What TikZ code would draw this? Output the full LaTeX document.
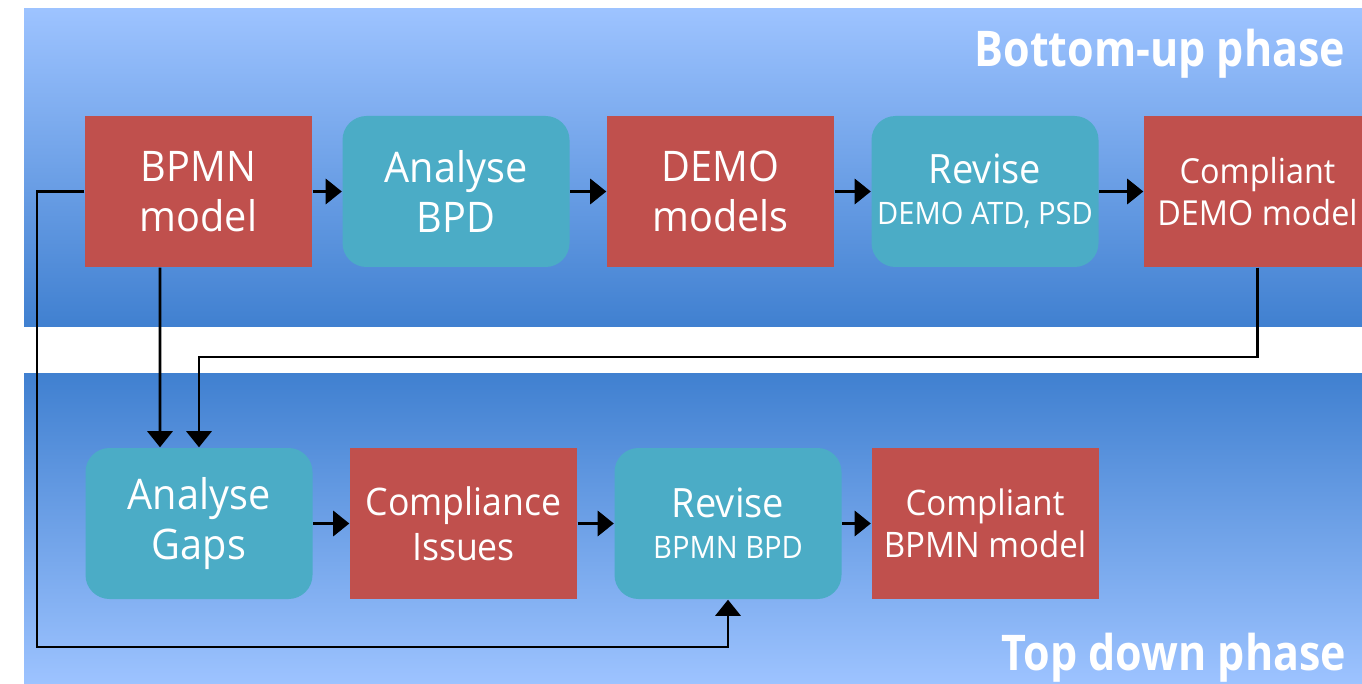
\documentclass[tikz,border=0pt]{standalone}
\usepackage{fontspec}
\setmainfont{Open Sans}[FakeStretch=0.94]
\usepackage{graphicx}
\usepackage{tikz}
\usetikzlibrary{arrows.meta}

\definecolor{modelred}{RGB}{192,80,77}
\definecolor{taskteal}{RGB}{75,172,198}
\definecolor{bandlight}{RGB}{157,195,255}
\definecolor{banddark}{RGB}{64,128,208}

\begin{document}
\begin{tikzpicture}[x=0.1mm, y=-0.1mm,
		model/.style={rectangle, fill=modelred, text=white, align=center, inner sep=0pt,
			minimum width=22.7mm, minimum height=15.1mm},
		task/.style={model, fill=taskteal, rounded corners=2.4mm},
		flow/.style={draw, line width=0.75pt, -{Triangle[length=4.6pt,width=7.2pt]}},
		phase/.style={text=white, inner sep=0pt, font=\bfseries\fontsize{14}{16}\selectfont, anchor=base west}]
	\useasboundingbox (0,0) rectangle (1362,684);
	\clip (0,0) rectangle (1362,684);
	% the two phase bands
	\shade[top color=bandlight, bottom color=banddark] (24,9) rectangle (1362,327);
	\shade[top color=banddark, bottom color=bandlight] (24,373) rectangle (1362,684);
	\node[phase] (up) at (974,67) {\scalebox{0.93}[1]{Bottom-up phase}};
	\node[phase] (down) at (1001,670) {\scalebox{0.93}[1]{Top down phase}};
	% First we draw the steps
	\foreach \pos/\name/\kind/\fs/\ls/\txt in {
			{(198.5,191.5)/bpmn/model/12/14.2/{BPMN\\model}},
			{(456,191.5)/bpd/task/12/14.2/{Analyse\\BPD}},
			{(720.5,191.5)/demo/model/12/14.2/{DEMO\\models}},
			{(985,191.5)/revdemo/task/11.5/11.6/{Revise\\\fontsize{8.8}{11.6}\selectfont DEMO ATD, PSD}},
			{(1257.5,191.5)/okdemo/model/9.8/12/{Compliant\\DEMO model}},
			{(199,523.5)/gaps/task/12/14.2/{Analyse\\Gaps}},
			{(463.5,523.5)/issues/model/10.8/12.8/{Compliance\\Issues}},
			{(728,523.5)/revbpmn/task/11.5/11.7/{Revise\\\fontsize{8.8}{11.7}\selectfont BPMN BPD}},
			{(985,523.5)/okbpmn/model/10/11.8/{Compliant\\BPMN model}}}
		\node[\kind, font=\fontsize{\fs}{\ls}\selectfont] (\name) at \pos {\txt};
	% then the flows
	\foreach \source/\dest in {bpmn/bpd, bpd/demo, demo/revdemo, revdemo/okdemo,
			gaps/issues, issues/revbpmn, revbpmn/okbpmn}
		\path[flow] (\source) -- (\dest);
	\coordinate (back) at (1257.5,357);
	\coordinate (loop) at (37,647);
	\path[flow] ([xshift=-3.85mm]bpmn.south) -- ([xshift=-3.9mm]gaps.north);
	\path[flow] (okdemo.south) -- (back) -| (gaps.north);
	\path[flow] (bpmn.west) -| (loop) -| (revbpmn.south);
\end{tikzpicture}
\end{document}
